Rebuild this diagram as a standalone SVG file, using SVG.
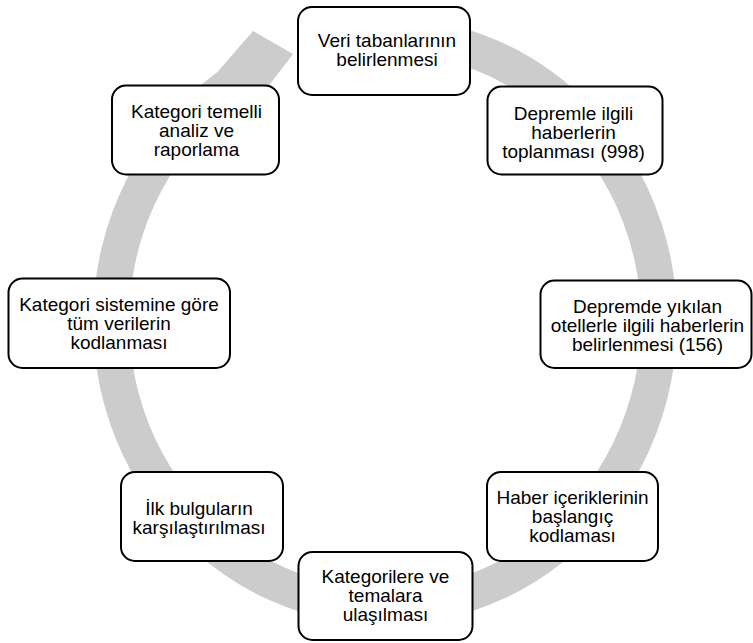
<svg xmlns="http://www.w3.org/2000/svg" width="753" height="643" viewBox="0 0 753 643">
<style>
.ring{fill:#cccccc;stroke:none}
.box{fill:#ffffff;stroke:#000000;stroke-width:2}
.t{font-family:"Liberation Sans",Arial,sans-serif;font-size:19px;fill:#000000;text-anchor:middle}
</style>
<rect x="0" y="0" width="753" height="643" fill="#ffffff"/>
<g id="connectors">
<path class="ring" d="M385 17 A292 304 0 1 1 217.5 72 L253 31 L293 54 L264 92 L257 89 A256 268 0 1 0 385 53 Z"/>
</g>
<g id="node1">
<rect class="box" x="298" y="7" width="172" height="88" rx="14"/>
<text class="t" x="387" y="47">Veri tabanlarının</text>
<text class="t" x="387" y="66">belirlenmesi</text>
</g>
<g id="node2">
<rect class="box" x="487.5" y="86.5" width="175" height="88" rx="14"/>
<text class="t" x="573.5" y="119.5">Depremle ilgili</text>
<text class="t" x="573.5" y="138.5">haberlerin</text>
<text class="t" x="573.5" y="157.5">toplanması (998)</text>
</g>
<g id="node3">
<rect class="box" x="540.5" y="280.5" width="211" height="87.5" rx="14"/>
<text class="t" x="647.5" y="312.5">Depremde yıkılan</text>
<text class="t" x="647.5" y="331.5">otellerle ilgili haberlerin</text>
<text class="t" x="647.5" y="350.5">belirlenmesi (156)</text>
</g>
<g id="node4">
<rect class="box" x="487" y="472" width="171" height="89" rx="14"/>
<text class="t" x="572.5" y="504">Haber içeriklerinin</text>
<text class="t" x="572.5" y="523">başlangıç</text>
<text class="t" x="572.5" y="542">kodlaması</text>
</g>
<g id="node5">
<rect class="box" x="298.5" y="552" width="174" height="88" rx="14"/>
<text class="t" x="385.5" y="583">Kategorilere ve</text>
<text class="t" x="385.5" y="602">temalara</text>
<text class="t" x="385.5" y="621">ulaşılması</text>
</g>
<g id="node6">
<rect class="box" x="121" y="472" width="162" height="89" rx="14"/>
<text class="t" x="199" y="515">İlk bulguların</text>
<text class="t" x="199" y="534">karşılaştırılması</text>
</g>
<g id="node7">
<rect class="box" x="8.5" y="278.5" width="221.5" height="89.5" rx="14"/>
<text class="t" x="119" y="311">Kategori sistemine göre</text>
<text class="t" x="119" y="330">tüm verilerin</text>
<text class="t" x="119" y="349">kodlanması</text>
</g>
<g id="node8">
<rect class="box" x="112" y="85.5" width="167" height="89" rx="14"/>
<text class="t" x="196.5" y="117.5">Kategori temelli</text>
<text class="t" x="196.5" y="136.5">analiz ve</text>
<text class="t" x="196.5" y="155.5">raporlama</text>
</g>
</svg>
